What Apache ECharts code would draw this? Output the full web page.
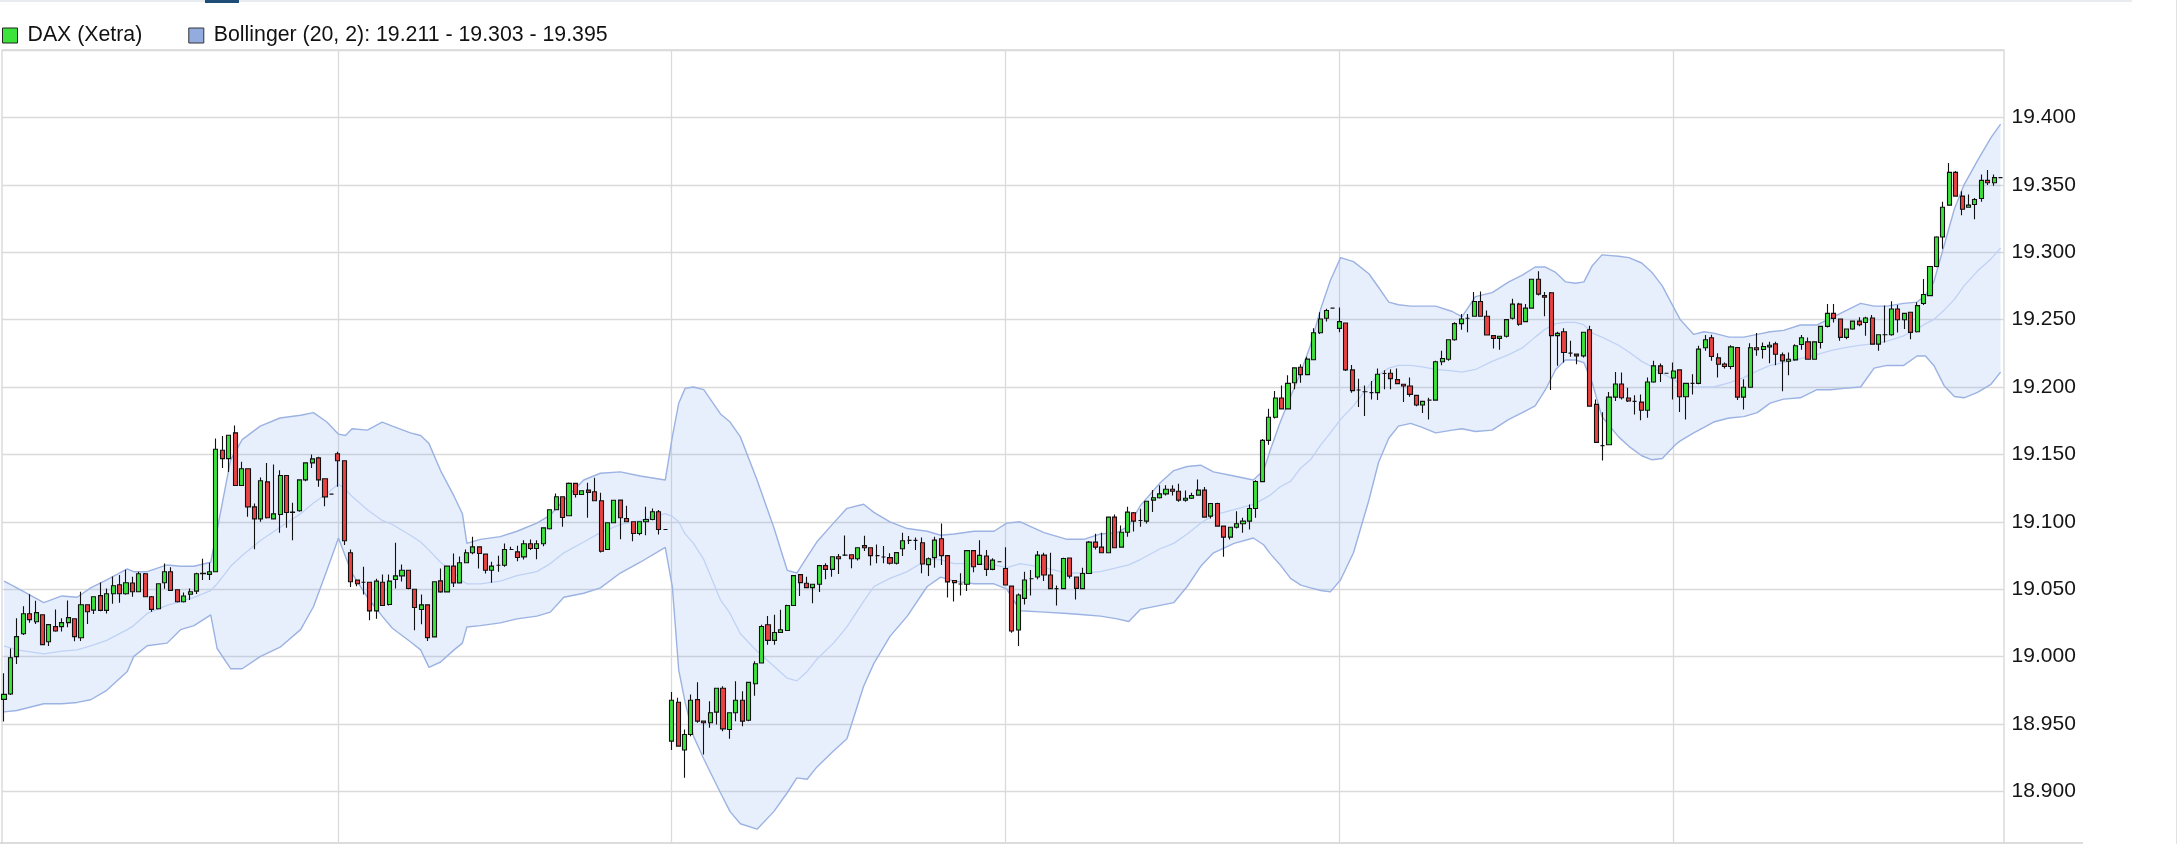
<!DOCTYPE html>
<html><head><meta charset="utf-8">
<script src="https://cdn.jsdelivr.net/npm/echarts@6/dist/echarts.min.js"></script>
<style>html,body{margin:0;padding:0;background:#fff;overflow:hidden;height:844px}#c{width:2177px;height:880px}</style>
</head><body><div id="c"></div>
<script>
// ---- candles: [open, close, low, high], 10-minute bars, 52 per trading day ----
const day1 = [
[18968.3,18972,18951.8,18987.6],[18972.3,18999.2,18971.6,19006],[19000,19014.8,18994.5,19028.4],[19017,19031.8,19016,19037.3],
[19031.8,19027.4,19025.2,19046.2],[19025.9,19032.6,19024.2,19041.5],[19031.1,19008.9,19008.9,19031.5],[19011,19023.7,19007.9,19024],
[19022.2,19019,19018.5,19035],[19022.2,19025.2,19018.7,19028.4],[19025.2,19028.9,19021.7,19041.7],[19028.1,19014.8,19011.3,19028.5],
[19014,19038.5,19011.6,19048.1],[19038.5,19033.3,19024.2,19038.5],[19034.5,19044.4,19031.6,19044.5],[19045.2,19034.3,19033.6,19055],
[19034.3,19046.6,19032,19050.6],[19046.6,19052.6,19039.2,19059.5],[19053.3,19046.6,19040,19060.5],[19046.6,19054.8,19045.9,19064.4],
[19054.6,19048.1,19044.4,19059.2],[19048.1,19061.5,19048,19063],[19061.5,19044.4,19044,19062],[19044.4,19035,19033.3,19045],
[19035.5,19054,19035,19054.5],[19054.8,19063,19050.4,19069.1],[19063,19049.1,19049,19066.2],[19049.6,19040.7,19040.2,19050],
[19040.7,19044.9,19040.2,19047.6],[19046.2,19048.1,19042,19050.6],[19048.6,19061.5,19046.4,19062.2],[19061.5,19061.8,19056.8,19072.6],
[19061,19063,19056.8,19069.6],[19063,19153.8,19062.5,19161.8],[19153.1,19146.9,19140,19163.7],[19146.9,19164.2,19137,19164.5],
[19166,19126.9,19126.5,19171.4],[19126.9,19139.3,19126.5,19144.5],[19139.3,19111.1,19103.7,19139.5],[19111.1,19102.2,19079.7,19113.6],
[19102.2,19130.4,19100,19132.8],[19129.6,19103,19102.5,19143.7],[19102.2,19105.9,19102,19142.5],[19105.4,19134.3,19091.8,19138.3],
[19134.3,19106.9,19095.6,19134.5],[19107,19107.2,19086.4,19114.1],[19108.2,19131.1,19107.4,19131.5],[19131.1,19143.7,19130,19144],
[19143.7,19146.7,19140,19149.9],[19147.4,19131.1,19126,19148.2],[19131.9,19118.5,19111.6,19132],[19120.5,19120.5,19120.5,19120.5]
];
const day2 = [
[19150.5,19145.3,19126,19152],[19145.3,19085.9,19082.7,19145.5],[19077,19055.5,19051.7,19079.5],[19056.7,19054,19052.2,19057],
[19055.2,19055.2,19046,19066.6],[19055.2,19033.9,19027,19055.5],[19033.9,19056,19028,19057.7],[19055.2,19037.9,19037.5,19060.9],
[19038.6,19056,19038,19060.9],[19057.2,19059.9,19050.5,19084.4],[19059.9,19064.1,19055.7,19068.3],[19064.1,19050.5,19050,19064.5],
[19050,19036.4,19019.6,19050.2],[19034.9,19038.4,19024,19046],[19038.4,19014.1,19011.6,19038.5],[19014.6,19055.5,19014.3,19055.7],
[19056.2,19048,19047.3,19065.3],[19048,19067.1,19047.8,19067.3],[19067.1,19054.7,19051.7,19076.5],[19054.7,19069.6,19054.5,19074.3],
[19069.6,19077,19069.4,19079.5],[19077,19081.4,19076,19088.9],[19081.4,19076.5,19065.3,19081.6],[19076,19064.1,19061.6,19076.2],
[19064.1,19067.1,19054.7,19070.3],[19067.8,19067.8,19062.9,19074.8],[19067.8,19079.5,19066.6,19083.9],[19079.5,19079.5,19079,19081.4],
[19077.7,19073.5,19070.8,19082.2],[19074,19083.7,19072,19086.4],[19083.7,19080.2,19079,19086.9],[19080.2,19083.7,19072.3,19086.4],
[19083.7,19095.5,19081.9,19095.7],[19094.8,19108.9,19094.3,19109],[19108.9,19118.6,19108.7,19121],[19118.6,19103.2,19096.3,19118.8],
[19104.5,19128.5,19104.3,19129.2],[19128.5,19120.3,19118,19129],[19120.3,19123,19120,19123.2],[19123.5,19121.8,19103,19129],
[19122.3,19115.6,19115.3,19132.7],[19115.6,19078.2,19077.2,19121.5],[19079.5,19099.3,19079,19099.5],[19099.3,19116,19099,19116.3],
[19116.1,19103,19087.1,19116.3],[19102.5,19100,19099.8,19111.9],[19100,19091.3,19085.6,19100.2],[19091.3,19100,19090.1,19100.3],
[19100,19101.7,19090.1,19111.1],[19101.7,19107.4,19101.2,19109.9],[19107.4,19094.3,19090.6,19108.7],[19094.3,19094.3,19094.3,19094.3]
];
const day3 = [
[18937.3,18967.6,18930.7,18973.8],[18966.1,18933.6,18933.4,18969.4],[18930.7,18942.2,18910.2,18945.9],[18942.2,18967.6,18941,18971.8],
[18968.1,18952.1,18950.9,18980.9],[18952.1,18950.9,18927.4,18952.3],[18950.9,18958.3,18947.2,18966.9],[18958.8,18976.5,18949.6,18976.7],
[18976.5,18946.4,18944.7,18978],[18945.9,18958.3,18939,18958.5],[18958.3,18967.6,18952.1,18981.7],[18967.6,18952.1,18948.4,18974.3],
[18952.8,18980.9,18952,18981],[18979.9,18994.7,18971,18996.5],[18995.2,19022.3,18995,19023.6],[19023.6,19012,19008.8,19030.2],
[19012,19017.9,19008.8,19031],[19017.9,19019.9,19017.7,19034.7],[19019.4,19037.9,19019.2,19038.4],[19037.9,19060.1,19037.7,19060.3],
[19060.8,19054.9,19045,19061],[19054.4,19051.2,19051,19059.3],[19051.2,19053.7,19039.6,19054],[19053.7,19067.5,19048,19067.7],
[19067.5,19064.7,19057.4,19069.2],[19064.7,19074.1,19059.3,19074.3],[19074.1,19072.6,19061.3,19076.1],[19075.3,19075.3,19074.6,19089.9],
[19075.6,19072.6,19065.5,19075.8],[19072.6,19080.8,19071.2,19081],[19082.3,19080.8,19078.3,19089.6],[19080.8,19074.9,19067.5,19081],
[19074.9,19074.9,19069.2,19083.2],[19073.9,19073.9,19069.2,19082],[19073.4,19069.2,19068.4,19076.6],[19069.2,19077.1,19068.4,19077.3],
[19080,19085.9,19074.6,19091.9],[19086.2,19086.2,19083.5,19089.4],[19086.2,19086.2,19079,19088.4],[19084.5,19068.7,19061.8,19088.4],
[19068.2,19072.6,19059.8,19073.6],[19073.4,19086.4,19066,19088.9],[19087.4,19074.9,19068,19098.8],[19074.9,19055.4,19043.8,19075],
[19056.4,19054.9,19040.8,19056.6],[19053.9,19053.9,19045.3,19061.8],[19053.7,19078.6,19048.7,19079],[19078.6,19066.7,19062.5,19078.8],
[19068.4,19075.1,19068,19086.4],[19074.6,19064.7,19059.8,19079],[19064.7,19071.6,19064,19072.9],[19070.4,19070.4,19070.4,19070.4]
];
const day4 = [
[19065.4,19053.1,19052.8,19081.2],[19052.3,19019,19017.7,19052.5],[19019.7,19045.7,19007.9,19046.9],[19043.2,19056.8,19038.7,19062.9],
[19057.8,19057.8,19045.4,19064.2],[19059,19075.3,19057.3,19078.3],[19075.3,19060.5,19056,19077],[19060.5,19050.4,19050,19077],
[19050.4,19050.4,19038,19052.8],[19050.4,19072.8,19050,19073.3],[19073.1,19059.7,19058,19073.3],[19059,19050.6,19042.4,19059.2],
[19050.4,19061.7,19050.2,19065.9],[19061.7,19084.9,19061.5,19085.7],[19084.9,19081.2,19079.5,19091.1],[19081.2,19077,19076.8,19091.8],
[19077,19103.5,19076.8,19103.7],[19103.5,19080.7,19080.5,19105.4],[19081.2,19092.3,19080.7,19097.3],[19092.3,19107.2,19088.9,19111.1],
[19106.7,19100.5,19092.8,19107.2],[19101,19101,19096.3,19109.6],[19100.5,19115.3,19098.8,19115.5],[19116.1,19117.8,19107.2,19123.5],
[19117.8,19120.7,19117.3,19127.2],[19120.7,19124.2,19119.5,19127.2],[19124.2,19122.7,19119.5,19127.2],[19122.7,19116.1,19114.8,19128.2],
[19116.1,19117.5,19114.8,19123.2],[19117.5,19119.5,19117,19121.5],[19119.8,19123.5,19119.5,19131.4],[19123.5,19103.5,19103.3,19125.9],
[19104.2,19113.6,19102.5,19113.8],[19113.6,19096.8,19096.3,19114.1],[19096.8,19088.6,19074.1,19097],[19088.6,19096,19086.9,19096.2],
[19096,19098.5,19095.1,19107.9],[19098.5,19100.5,19091.8,19103],[19100.5,19109.9,19094.3,19112.8],[19109.9,19129.9,19103,19130.9],
[19129.8,19160.4,19129.5,19161.4],[19160.4,19177.6,19157.2,19183.8],[19177.6,19191.8,19176.6,19197],[19191.8,19183.8,19183.3,19201.2],
[19183.8,19202.7,19183.3,19208.7],[19203.2,19214.2,19198.3,19214.4],[19214.7,19209.2,19203.2,19216.9],[19209.2,19220.7,19208.7,19222.4],
[19220.2,19240.3,19220,19243.5],[19240.3,19250.5,19239.3,19255.5],[19251,19256.7,19248.5,19258],[19258.5,19258.5,19258.5,19258.5]
];
const day5 = [
[19243.5,19248.5,19240.6,19259],[19247.5,19212.7,19211.9,19247.7],[19212.7,19197.3,19195.8,19216.4],[19197.8,19197.8,19185.1,19206.2],
[19196.5,19196.5,19178.4,19201.2],[19195.8,19195.8,19190.8,19204.5],[19195.8,19209.5,19190.3,19213.7],[19210,19210,19198.3,19212.4],
[19210.2,19206.2,19198.3,19213.2],[19205.5,19202.5,19202,19213.7],[19202,19200.7,19188.8,19202.2],[19200.7,19194.5,19192.8,19207],
[19193.8,19186.6,19185.8,19194],[19186.6,19189.3,19180.8,19189.5],[19190.3,19190.3,19175.9,19192],[19190.3,19218.7,19190,19219.4],
[19218.7,19221.1,19216.2,19226.9],[19220.6,19235.1,19219.4,19235.3],[19235.1,19247,19234.3,19248],[19247,19250.5,19242.5,19254.2],
[19251,19251,19240.6,19254.2],[19252.5,19263.4,19252.3,19270.4],[19263.4,19252.5,19252.3,19270.9],[19252.5,19238.6,19238.4,19256.7],
[19238.1,19236.1,19228.6,19238.3],[19236.1,19237.6,19227.6,19237.8],[19237.6,19250,19236.8,19250.2],[19251,19261.5,19250,19265.4],
[19261.5,19246.5,19245.5,19262.5],[19248.5,19258.5,19248,19261.5],[19258.5,19279.9,19258.3,19280],[19279.9,19268.9,19267.9,19285.8],
[19267.9,19266.7,19252.5,19270.4],[19269.9,19238.1,19197.8,19270.4],[19238.1,19239.8,19215.7,19241],[19241,19225.6,19218.2,19243.5],
[19225.1,19225.1,19222.4,19234.3],[19224.4,19223.1,19216.9,19224.6],[19223.1,19240.6,19221.9,19240.8],[19242.5,19185.8,19185.5,19245.5],
[19187.1,19158.9,19158.5,19190.8],[19156.5,19156.5,19145.5,19181.3],[19157.2,19192.5,19157,19196.3],[19192.5,19202.2,19189.6,19211.2],
[19202.2,19192,19190.8,19210.7],[19191.8,19189.6,19188.8,19199.5],[19189.3,19189.3,19179.6,19193.8],[19188.8,19182.8,19175.4,19194.5],
[19182.8,19203.7,19177.1,19207],[19203.7,19215.7,19203.2,19219.4],[19215.7,19210,19203.7,19217.4],[19210.2,19210.2,19210.2,19210.2]
];
const day6 = [
[19206.7,19211.9,19190.8,19218.1],[19212.7,19192.8,19181.4,19212.9],[19192.8,19202.7,19175.9,19202.9],[19202.7,19202.7,19194.5,19209.4],
[19202.7,19228.1,19202,19230.6],[19229.1,19235,19226.8,19238.5],[19236.5,19222.6,19219.4,19238.8],[19221.6,19216.9,19207,19225.1],
[19217.1,19215.2,19213.7,19218.1],[19215.2,19229.8,19213.2,19231],[19229.3,19192.5,19190.3,19229.5],[19192.5,19199.8,19183.4,19205.7],
[19199.8,19229.1,19199.5,19232.5],[19229.1,19227.6,19223.1,19240],[19227.8,19230.1,19221.1,19233],[19229.8,19231,19217.6,19233.5],
[19232,19224.3,19216.1,19233.5],[19223.8,19219.4,19196.8,19225.6],[19219.1,19220.6,19208.7,19225.6],[19220.1,19230.6,19219.4,19231.8],
[19231.5,19236.5,19227.6,19238.5],[19233.5,19220.6,19220.4,19236.8],[19220.6,19233.5,19220.4,19233.7],[19233,19245,19228.6,19245.2],
[19245,19254.6,19244.2,19261.6],[19254.6,19250.9,19247.9,19261.6],[19250.4,19236.8,19234.3,19250.6],[19236.8,19243,19235.5,19243.2],
[19243,19248.9,19242.5,19249],[19248.9,19246.2,19245,19251.7],[19247.9,19251.2,19238,19252.2],[19251.2,19231.8,19231.6,19253.4],
[19231.8,19238.8,19226.8,19239],[19238.8,19238.8,19233,19260.4],[19238.8,19257.9,19238,19263.6],[19257.9,19249.9,19240.5,19260.9],
[19249.9,19254.6,19243,19254.8],[19255.4,19240.5,19235.5,19255.6],[19241,19260.4,19240.5,19262.8],[19261.9,19268.6,19260.9,19280.2],
[19267.8,19289.4,19267.6,19289.6],[19289.4,19311.3,19288.9,19311.8],[19311.3,19333.4,19302.6,19337.4],[19334.9,19359.2,19334.7,19366.2],
[19359.2,19341.6,19341.1,19360.2],[19341.6,19331.9,19327.4,19345.3],[19333.4,19334.9,19332.9,19342.8],[19335.4,19339.1,19324.5,19340.3],
[19339.8,19353.3,19337.4,19357.7],[19353.3,19351.5,19349.8,19361],[19351.5,19355.3,19349.3,19357.7],[19355.3,19355.3,19355.3,19355.3]
];

const bbIndex = [0,2,6.2,9,11.4,13.5,16,19.2,20.2,22.3,25.4,27.5,29.6,32.2,33.2,35.3,37.1,39.9,43,46.2,48.2,50.3,52.1,53.2,54.2,56.6,58.9,60.5,63.3,64.9,66.2,68,70.1,71.4,72.1,74.2,77.3,79.9,83,85.1,87.2,90.3,92.9,96,99.1,103,104.1,105.1,106.1,107.4,109,111.6,113.1,114.7,117.3,119.9,122,123.5,125.1,126.6,129.2,131.3,133.9,135.5,138,140.7,143.8,145.9,148,151.1,154.2,156.2,158.3,162,165.6,168.2,170.8,173.4,175.2,177,180.1,182.2,184.3,186.4,188.4,191.6,194.6,196.2,197.3,198.8,200.4,202,203.5,205.1,206.6,208.2,210.2,212.6,214.1,215.7,217.2,219.1,220.9,223,225.6,227.1,229.2,231.8,234.4,236.5,238.5,240.1,241.7,243.2,244.8,246.1,247.4,248.9,251.5,253.1,255.1,256.7,258.3,260.3,261.1,263.2,264.8,266.3,268.7,271,273.1,275.1,277.2,279.8,282.4,284.5,286.6,289.2,291.3,293.3,295.9,298,299.3,300.6,302.2,303.8,305.3,307.4,309.5,311];
const bbUpper = [19056,19051,19040,19045,19044,19051,19057,19065,19063,19063,19068,19067,19067,19070,19094,19146,19161,19171,19177,19179,19181,19174,19165,19164,19169,19168,19174,19171,19166,19164,19158,19138,19119,19106,19084,19087,19089,19093,19099,19105,19116,19131,19136,19137,19134,19131,19163,19188,19199,19200,19198,19180,19174,19163,19131,19096,19064,19062,19074,19085,19099,19110,19113,19107,19100,19095,19093,19090,19091,19093,19093,19099,19100,19092,19087,19087,19091,19092,19097,19112,19129,19138,19141,19142,19137,19134,19131,19138,19154,19174,19193,19211,19231,19258,19279,19296,19293,19284,19274,19263,19261,19260,19260,19260,19256,19252,19267,19270,19278,19283,19289,19289,19285,19278,19277,19278,19290,19298,19297,19296,19292,19285,19275,19257,19250,19239,19241,19240,19237,19237,19239,19241,19242,19246,19246,19251,19256,19262,19260,19260,19262,19263,19268,19278,19305,19332,19350,19368,19385,19395];
const bbMiddle = [19008,19005,19002,19004,19005,19008,19012,19020,19023,19032,19038,19041,19044,19049,19054,19067,19075,19086,19096,19106,19114,19121,19128,19124,19119,19109,19101,19098,19090,19085,19079,19070,19062,19056,19054,19054,19056,19060,19063,19069,19077,19085,19092,19098,19101,19106,19104,19100,19091,19084,19072,19042,19032,19017,19004,18993,18984,18982,18989,18998,19010,19022,19041,19052,19058,19063,19072,19072,19069,19069,19068,19066,19069,19066,19062,19062,19063,19066,19068,19072,19080,19084,19091,19099,19105,19109,19113,19117,19120,19126,19130,19140,19146,19157,19166,19176,19186,19201,19209,19214,19216,19216,19215,19213,19212,19211,19213,19219,19224,19229,19237,19243,19247,19248,19248,19246,19240,19237,19231,19226,19219,19215,19210,19205,19201,19200,19200,19200,19203,19207,19212,19216,19218,19221,19224,19227,19229,19231,19232,19234,19238,19243,19247,19250,19257,19265,19275,19286,19295,19303];
const bbLower = [18959,18960,18965,18965,18966,18968,18975,18989,19000,19008,19010,19020,19023,19031,19006,18991,18991,19000,19007,19020,19037,19064,19088,19074,19062,19044,19030,19021,19011,19005,18992,18996,19005,19010,19022,19023,19025,19028,19030,19033,19044,19047,19051,19062,19070,19081,19052,18990,18966,18941,18924,18899,18885,18876,18872,18885,18899,18910,18909,18918,18930,18939,18978,18995,19015,19030,19052,19059,19056,19054,19054,19050,19034,19033,19032,19031,19030,19028,19026,19035,19038,19040,19052,19067,19077,19084,19088,19083,19076,19068,19058,19053,19051,19049,19048,19057,19077,19116,19144,19162,19171,19173,19170,19166,19168,19169,19167,19168,19176,19181,19186,19198,19213,19220,19220,19218,19203,19178,19163,19156,19149,19146,19147,19157,19160,19166,19170,19174,19177,19178,19181,19188,19191,19192,19198,19198,19199,19200,19214,19216,19216,19223,19223,19216,19201,19193,19192,19196,19202,19211];

// ---- axis ticks and texts ----
const yTickValues = [18900,18950,19000,19050,19100,19150,19200,19250,19300,19350,19400];
const yMin = 18850, yMax = 19450, yStep = 50;
const barsPerDay = 52;
const dayLabels = ['Tag 1','Tag 2','Tag 3','Tag 4','Tag 5','Tag 6'];
const legendDax = 'DAX (Xetra)';
const legendBoll = 'Bollinger (20, 2): 19.211 - 19.303 - 19.395';

const candles = day1.concat(day2, day3, day4, day5, day6);
const categories = [];
dayLabels.forEach(d => { for (let k = 0; k < barsPerDay; k++) { const m = 540 + 10 * k; categories.push(d + ' ' + String(Math.floor(m / 60)).padStart(2, '0') + ':' + String(m % 60).padStart(2, '0')); } });
const fmtDE = v => { const s = String(Math.round(v)); return s.slice(0, -3) + '.' + s.slice(-3); };
const pairs = arr => bbIndex.map((x, k) => [x, arr[k]]);
const bandRows = bbIndex.map((x, k) => [x, bbLower[k], bbUpper[k]]);

const FONT = 'Liberation Sans, Arial, sans-serif';
const GREEN = '#3be33b', RED = '#e94343', EDGE = '#111111';
const GRID = '#dadada';
const BAND_FILL = 'rgba(120,160,235,0.17)';
const BAND_LINE = '#9bb2e3', MID_LINE = '#bfd2f5';
const gTop = 50, gHeight = 808.8; // 600 points at 1.348 px per point

const chart = echarts.init(document.getElementById('c'), null, { renderer: 'canvas' });
chart.setOption({
  animation: false,
  backgroundColor: '#ffffff',
  grid: [
    { left: 4, top: gTop, width: 1996.6, height: gHeight, containLabel: false },
    { left: 2, top: gTop, width: 2002, height: gHeight, containLabel: false }
  ],
  legend: {
    left: 2, top: 25, padding: 0, itemWidth: 15, itemHeight: 15, itemGap: 46, icon: 'rect', selectedMode: false,
    textStyle: { fontFamily: FONT, fontSize: 21.3, color: '#111', padding: [0, 0, 0, 5] },
    data: [
      { name: legendDax, itemStyle: { color: GREEN, borderColor: '#222', borderWidth: 1 } },
      { name: legendBoll, itemStyle: { color: '#93acdf', borderColor: '#333', borderWidth: 1 } }
    ]
  },
  xAxis: [
    { type: 'category', gridIndex: 0, data: categories, boundaryGap: false,
      axisLine: { show: false }, axisTick: { show: false }, axisLabel: { show: false },
      splitLine: { show: true, interval: (i) => i > 0 && i % barsPerDay === 0, lineStyle: { color: GRID, width: 1.3 } } },
    { type: 'value', gridIndex: 0, min: 0, max: categories.length - 1, show: false },
    { type: 'value', gridIndex: 1, min: 0, max: 1, show: false }
  ],
  yAxis: [
    { type: 'value', gridIndex: 0, position: 'right', min: yMin, max: yMax, interval: yStep,
      axisLine: { show: false }, axisTick: { show: false }, splitLine: { show: false },
      axisLabel: { show: true, margin: 11, fontFamily: FONT, fontSize: 21, color: '#151515',
        formatter: v => (yTickValues.indexOf(v) >= 0 ? fmtDE(v) : '') } },
    { type: 'value', gridIndex: 1, min: yMin, max: yMax, interval: yStep,
      axisLine: { show: false }, axisTick: { show: false }, axisLabel: { show: false },
      splitLine: { show: true, lineStyle: { color: GRID, width: 1.3 } } }
  ],
  series: [
    { name: legendBoll, type: 'custom', xAxisIndex: 1, yAxisIndex: 0, data: bandRows, silent: true, z: 1,
      itemStyle: { color: '#93acdf' },
      encode: { x: 0, y: [1, 2] },
      renderItem: function (params, api) {
        if (params.dataIndex !== 0) return null;
        const top = bandRows.map(r => api.coord([r[0], r[2]]));
        const bottom = bandRows.slice().reverse().map(r => api.coord([r[0], r[1]]));
        return { type: 'polygon', shape: { points: top.concat(bottom) }, style: { fill: BAND_FILL, stroke: null } };
      } },
    { name: 'BB-Mitte', type: 'line', xAxisIndex: 1, yAxisIndex: 0, data: pairs(bbMiddle),
      showSymbol: false, lineStyle: { color: MID_LINE, width: 1.3 }, silent: true, z: 2 },
    { name: 'BB-Oben', type: 'line', xAxisIndex: 1, yAxisIndex: 0, data: pairs(bbUpper),
      showSymbol: false, lineStyle: { color: BAND_LINE, width: 1.4 }, silent: true, z: 2 },
    { name: 'BB-Unten', type: 'line', xAxisIndex: 1, yAxisIndex: 0, data: pairs(bbLower),
      showSymbol: false, lineStyle: { color: BAND_LINE, width: 1.4 }, silent: true, z: 2 },
    { name: legendDax, type: 'candlestick', xAxisIndex: 0, yAxisIndex: 0, data: candles, barWidth: 4.6, clip: false, z: 5,
      itemStyle: { color: GREEN, color0: RED, borderColor: EDGE, borderColor0: EDGE, borderColorDoji: EDGE, borderWidth: 1.1 } }
  ],
  graphic: [
    { type: 'rect', silent: true, z: -1, shape: { x: 0, y: 0, width: 2132, height: 2 }, style: { fill: '#e8ebef' } },
    { type: 'rect', silent: true, z: -1, shape: { x: 205, y: 0, width: 34, height: 3 }, style: { fill: '#1e4d78' } },
    { type: 'line', silent: true, z: -1, shape: { x1: 2176.5, y1: 0, x2: 2176.5, y2: 844 }, style: { stroke: '#e2e2e2', lineWidth: 1 } },
    { type: 'polyline', silent: true, z: -1, shape: { points: [[2, 843], [2, 50], [2004, 50], [2004, 843]] }, style: { stroke: '#d6d6d6', lineWidth: 1.3, fill: null } },
    { type: 'line', silent: true, z: -1, shape: { x1: 0, y1: 843, x2: 2083, y2: 843 }, style: { stroke: '#d0d0d0', lineWidth: 1.5 } }
  ]
});
</script>
</body></html>
